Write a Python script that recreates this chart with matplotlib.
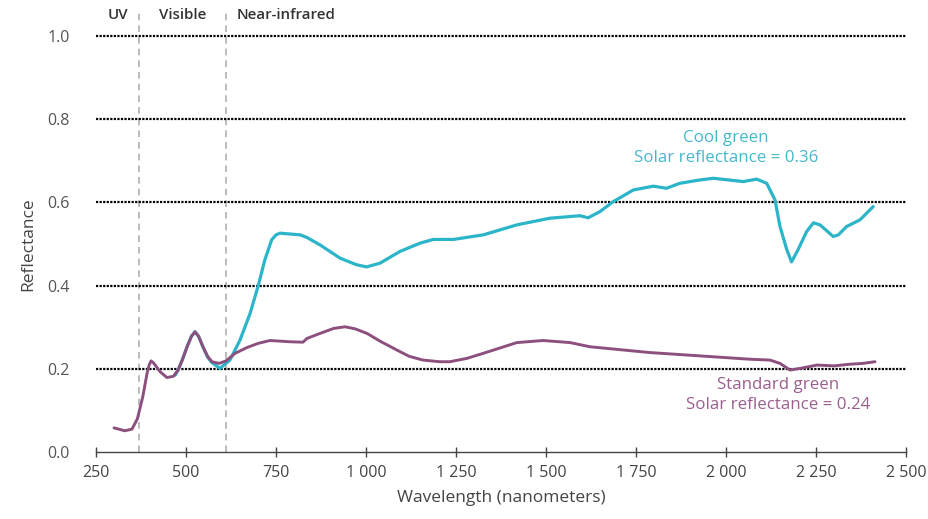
import matplotlib
matplotlib.use("Agg")
import matplotlib.pyplot as plt
import numpy as np

plt.rcParams['font.family'] = ['Open Sans', 'DejaVu Sans']

# Standard green (purple) spectrum
std_wl = [300, 330, 350, 365, 380, 392, 398, 403, 410, 428, 447, 465, 478, 490, 503, 515,
          525, 535, 547, 560, 572, 592, 611, 636, 669, 700, 733, 789, 825, 836, 872, 910,
          942, 970, 1003, 1040, 1086, 1120, 1158, 1205, 1233, 1280, 1325, 1419, 1492,
          1567, 1622, 1789, 1928, 2067, 2122, 2150, 2178, 2206, 2253, 2300, 2344, 2380,
          2414]
std_r = [0.058, 0.051, 0.055, 0.080, 0.133, 0.190, 0.210, 0.219, 0.214, 0.193, 0.179,
         0.182, 0.197, 0.222, 0.253, 0.278, 0.289, 0.278, 0.253, 0.230, 0.217, 0.213,
         0.219, 0.237, 0.251, 0.261, 0.268, 0.265, 0.264, 0.273, 0.285, 0.297, 0.301,
         0.296, 0.285, 0.266, 0.245, 0.230, 0.221, 0.217, 0.217, 0.225, 0.237, 0.263,
         0.268, 0.263, 0.253, 0.239, 0.231, 0.223, 0.221, 0.213, 0.197, 0.201, 0.209,
         0.207, 0.211, 0.213, 0.217]

# Cool green (cyan) spectrum
cool_wl = [470, 478, 490, 503, 515, 525, 535, 547, 560, 572, 594, 622, 650, 678, 701, 719,
           738, 750, 761, 789, 817, 835, 872, 928, 974, 1002, 1039, 1094, 1150, 1187,
           1243, 1326, 1419, 1511, 1594, 1617, 1650, 1687, 1743, 1798, 1835, 1872, 1928,
           1965, 2048, 2085, 2113, 2136, 2150, 2169, 2182, 2200, 2224, 2243, 2261, 2298,
           2312, 2335, 2372, 2409]
cool_r = [0.185, 0.197, 0.222, 0.253, 0.278, 0.289, 0.278, 0.253, 0.228, 0.215, 0.201,
          0.221, 0.269, 0.333, 0.401, 0.462, 0.510, 0.522, 0.526, 0.524, 0.522, 0.516,
          0.498, 0.466, 0.450, 0.445, 0.454, 0.482, 0.502, 0.511, 0.511, 0.522, 0.546,
          0.562, 0.568, 0.563, 0.578, 0.602, 0.630, 0.639, 0.634, 0.646, 0.654, 0.658,
          0.650, 0.656, 0.646, 0.606, 0.542, 0.486, 0.457, 0.486, 0.530, 0.551, 0.546,
          0.518, 0.522, 0.542, 0.558, 0.590]

region_bounds = [370, 610]
region_labels = ["UV", "Visible", "Near-infrared"]
x_ticks = [250, 500, 750, 1000, 1250, 1500, 1750, 2000, 2250, 2500]
x_ticklabels = ["250", "500", "750", "1 000", "1 250", "1 500", "1 750", "2 000", "2 250", "2 500"]
y_ticks = [0.0, 0.2, 0.4, 0.6, 0.8, 1.0]

cyan = "#2cb5c9"
purple = "#8c4f7e"

fig = plt.figure(figsize=(9.29, 5.19), dpi=100)
ax = fig.add_axes([96/929, 1-452/519, 810/929, 416/519])
ax.set_xlim(250, 2500)
ax.set_ylim(0, 1.0)

for y in y_ticks[1:]:
    ax.axhline(y, color="black", lw=1.6, ls=(0, (1, 0.6)), zorder=1, clip_on=False)

for xb in region_bounds:
    ax.plot([xb, xb], [0, 1.06], color="#b0b0b0", lw=1.2, ls=(0, (4, 3)), zorder=0.5,
            clip_on=False)

ax.plot(cool_wl, cool_r, color=cyan, lw=2.3, zorder=3, solid_capstyle="round",
        solid_joinstyle="round")
ax.plot(std_wl, std_r, color=purple, lw=2.1, zorder=4, solid_capstyle="round",
        solid_joinstyle="round")

ax.set_xticks(x_ticks)
ax.set_xticklabels(x_ticklabels)
ax.set_yticks(y_ticks)
ax.set_yticklabels([f"{v:.1f}" for v in y_ticks])
ax.tick_params(axis="x", direction="inout", length=7, width=1, colors="#444444",
               labelsize=11.5, pad=6)
ax.tick_params(axis="y", length=0, colors="#555555", labelsize=11.5, pad=19)
for s in ["top", "right", "left"]:
    ax.spines[s].set_visible(False)
ax.spines["bottom"].set_color("#444444")
ax.spines["bottom"].set_linewidth(1.0)

ax.set_xlabel("Wavelength (nanometers)", fontsize=12.5, color="#444444", labelpad=6)
ax.set_ylabel("Reflectance", fontsize=12.5, color="#444444", labelpad=8)

# region labels
region_x = [310, 490, 640]
for xl, lab in zip(region_x, region_labels):
    ax.text(xl, 1.05, lab, ha="center" if lab != "Near-infrared" else "left",
            va="center", fontsize=10.8, color="#333333", fontweight="semibold",
            clip_on=False)

ax.text(2000, 0.73, "Cool green\nSolar reflectance = 0.36", ha="center", va="center",
        fontsize=12.2, color="#45b8cc", linespacing=1.35)
ax.text(2145, 0.137, "Standard green\nSolar reflectance = 0.24", ha="center", va="center",
        fontsize=12.2, color="#9a5f8e", linespacing=1.35)

fig.savefig("out.png", dpi=100)
